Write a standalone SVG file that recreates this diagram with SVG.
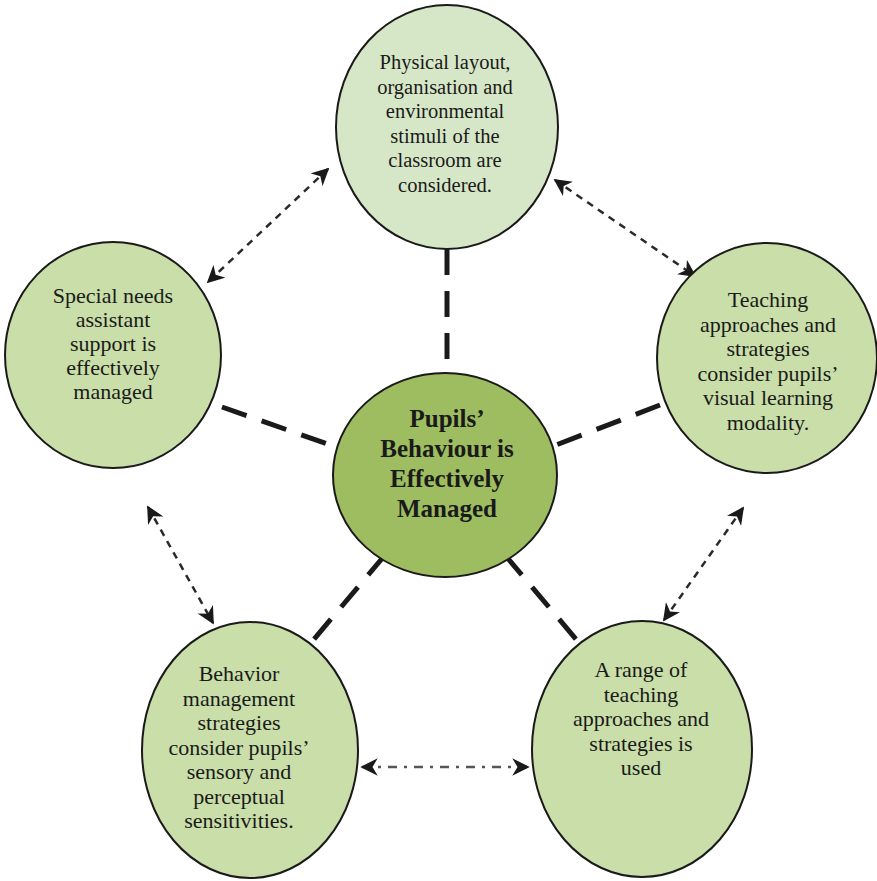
<svg xmlns="http://www.w3.org/2000/svg" width="877" height="881" viewBox="0 0 877 881">
<style>
.outer{fill:#c9dea8;stroke:#1a1a1a;stroke-width:2}
.top{fill:#d6e7c7;stroke:#1a1a1a;stroke-width:2}
.center{fill:#9ebd60;stroke:#1a1a1a;stroke-width:2}
.t{font-family:"Liberation Serif","Times New Roman",serif;font-size:22px;fill:#1a1a1a;text-anchor:middle}
.ts{font-size:20.5px}
.tc{font-family:"Liberation Serif","Times New Roman",serif;font-size:25px;font-weight:bold;fill:#1a1a1a;text-anchor:middle}
.thick{stroke:#1a1a1a;stroke-width:5;stroke-dasharray:26 16;fill:none}
.dot{stroke:#2a2a2a;stroke-width:2.5;stroke-dasharray:7 6;fill:none;marker-start:url(#ah);marker-end:url(#ah)}
.dd{stroke:#555;stroke-width:2.5;stroke-dasharray:9 7 3 7;fill:none;marker-start:url(#ah);marker-end:url(#ah)}
</style>
<defs>
<marker id="ah" viewBox="0 0 10 10" refX="9" refY="5" markerWidth="7" markerHeight="7" orient="auto-start-reverse" markerUnits="strokeWidth">
<path d="M0,0 L10,5 L0,10 L3,5 z" fill="#1a1a1a"/>
</marker>
</defs>
<rect width="877" height="881" fill="#ffffff"/>
<g id="connectors">
<line class="thick" x1="447" y1="249" x2="447" y2="375"/>
<line class="thick" x1="222" y1="407" x2="336" y2="447"/>
<line class="thick" x1="660" y1="405" x2="556" y2="445"/>
<line class="thick" x1="385" y1="555" x2="310" y2="644"/>
<line class="thick" x1="505" y1="555" x2="580" y2="644"/>
<line class="dot" x1="328" y1="169" x2="208" y2="282"/>
<line class="dot" x1="555" y1="180" x2="695" y2="276"/>
<line class="dot" x1="148" y1="507" x2="213" y2="623"/>
<line class="dot" x1="743" y1="508" x2="664" y2="620"/>
<line class="dd" x1="362" y1="767" x2="528" y2="767"/>
</g>
<g id="node-top">
<ellipse class="top" cx="447" cy="127" rx="111" ry="122"/>
<text class="t ts"><tspan x="445" y="69">Physical layout,</tspan><tspan x="445" y="93.5">organisation and</tspan><tspan x="445" y="118">environmental</tspan><tspan x="445" y="142.5">stimuli of the</tspan><tspan x="445" y="167">classroom are</tspan><tspan x="445" y="191.5">considered.</tspan></text>
</g>
<g id="node-left">
<ellipse class="outer" cx="113" cy="355" rx="108" ry="113"/>
<text class="t"><tspan x="113" y="303">Special needs</tspan><tspan x="113" y="327">assistant</tspan><tspan x="113" y="351">support is</tspan><tspan x="113" y="375">effectively</tspan><tspan x="113" y="399">managed</tspan></text>
</g>
<g id="node-right">
<ellipse class="outer" cx="767" cy="358" rx="110" ry="115"/>
<text class="t"><tspan x="768" y="307">Teaching</tspan><tspan x="768" y="331.5">approaches and</tspan><tspan x="768" y="356">strategies</tspan><tspan x="768" y="380.5">consider pupils’</tspan><tspan x="768" y="405">visual learning</tspan><tspan x="768" y="429.5">modality.</tspan></text>
</g>
<g id="node-center">
<ellipse class="center" cx="445" cy="475" rx="112" ry="102"/>
<text class="tc"><tspan x="447" y="427">Pupils’</tspan><tspan x="447" y="457">Behaviour is</tspan><tspan x="447" y="487">Effectively</tspan><tspan x="447" y="517">Managed</tspan></text>
</g>
<g id="node-bottom-left">
<ellipse class="outer" cx="250" cy="750" rx="108" ry="128"/>
<text class="t"><tspan x="239" y="681">Behavior</tspan><tspan x="239" y="705.5">management</tspan><tspan x="239" y="730">strategies</tspan><tspan x="239" y="754.5">consider pupils’</tspan><tspan x="239" y="779">sensory and</tspan><tspan x="239" y="803.5">perceptual</tspan><tspan x="239" y="828">sensitivities.</tspan></text>
</g>
<g id="node-bottom-right">
<ellipse class="outer" cx="642" cy="749" rx="110" ry="128"/>
<text class="t"><tspan x="641" y="677">A range of</tspan><tspan x="641" y="701.5">teaching</tspan><tspan x="641" y="726">approaches and</tspan><tspan x="641" y="750.5">strategies is</tspan><tspan x="641" y="775">used</tspan></text>
</g>
</svg>
